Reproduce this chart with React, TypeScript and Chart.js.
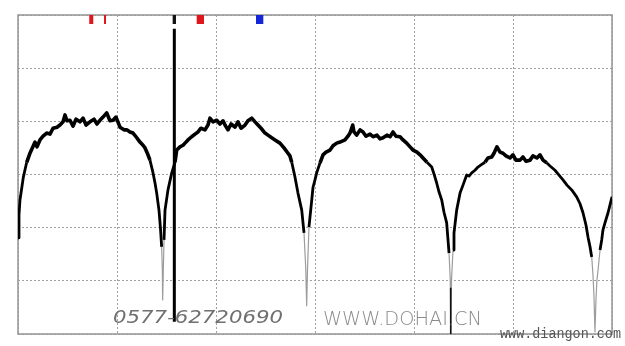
import React, { useEffect, useRef } from "react";
import { Chart, registerables } from "chart.js";

Chart.register(...registerables);

// Trace (x: 0..600 across 6 divisions, y: 0..6 across 6 divisions)
const traceX = [
  0, 1.0, 2.0, 5.4, 8.8, 12.1, 17.2, 19.2, 22.2, 25.3, 29.0, 32.3, 35.4, 39.4, 42.4, 45.5, 47.5, 49.5, 52.5, 55.6,
  58.6, 62.6, 65.7, 68.7, 72.7, 76.8, 79.8, 82.8, 85.9, 89.6, 92.9, 96.0, 99.0, 103.0, 107.1, 110.1, 113.1, 116.2, 119.2, 123.2,
  126.3, 128.3, 131.3, 133.3, 136.4, 138.4, 140.1, 142.4, 143.9, 145.1, 145.8, 146.1, 146.8, 147.5, 148.5, 151.5, 155.3, 158.6, 160.3, 163.6,
  166.7, 168.7, 171.7, 175.4, 178.8, 181.8, 184.8, 188.9, 191.9, 193.9, 197.0, 200.7, 204.0, 207.1, 209.1, 212.1, 215.2, 219.2, 222.2, 225.3,
  229.3, 232.3, 236.1, 239.4, 242.4, 245.5, 249.5, 252.5, 256.3, 259.6, 264.6, 268.7, 272.7, 274.7, 276.5, 279.8, 282.8, 286.6, 288.9, 290.6,
  291.6, 292.4, 293.9, 296.7, 298.0, 300.0, 301.7, 305.1, 308.1, 311.1, 315.2, 318.2, 321.9, 325.3, 330.3, 333.3, 335.4, 338.1, 339.4, 342.1,
  345.5, 348.5, 351.5, 355.6, 358.6, 362.6, 365.7, 368.7, 372.7, 375.8, 378.8, 381.8, 385.9, 388.9, 392.6, 396.0, 399.0, 403.0, 406.1, 409.1,
  413.1, 417.9, 420.2, 422.9, 425.3, 428.0, 430.3, 433.0, 435.4, 436.6, 437.1, 437.9, 439.4, 440.4, 443.1, 446.5, 449.5, 453.2, 455.6, 458.3,
  461.6, 464.6, 467.7, 471.7, 474.7, 478.5, 480.8, 483.8, 486.9, 489.9, 492.9, 497.0, 500.0, 503.0, 507.1, 510.1, 513.1, 517.2, 520.2, 524.2,
  527.3, 530.3, 534.0, 537.4, 542.4, 546.5, 550.5, 554.5, 559.3, 564.3, 567.7, 570.7, 573.7, 575.8, 577.8, 579.5, 580.8, 581.8, 582.8, 583.8,
  584.8, 585.9, 587.9, 589.6, 590.9, 592.9, 596.0, 598.0, 600.0,
];
const traceY = [
  1.81, 2.24, 2.52, 2.95, 3.23, 3.40, 3.61, 3.52, 3.65, 3.72, 3.78, 3.76, 3.87, 3.89, 3.93, 3.99, 4.12, 4.01, 4.02, 3.91,
  4.04, 3.99, 4.06, 3.93, 3.99, 4.04, 3.95, 4.02, 4.08, 4.16, 4.01, 4.02, 4.08, 3.89, 3.84, 3.84, 3.80, 3.78, 3.71, 3.61,
  3.55, 3.50, 3.37, 3.27, 3.03, 2.84, 2.65, 2.33, 1.99, 1.64, 1.20, 0.64, 1.20, 1.77, 2.33, 2.71, 3.03, 3.23, 3.46, 3.52,
  3.55, 3.59, 3.65, 3.71, 3.76, 3.80, 3.87, 3.84, 3.93, 4.06, 3.99, 4.02, 3.95, 4.01, 3.93, 3.84, 3.95, 3.89, 3.99, 3.87,
  3.93, 4.01, 4.06, 3.99, 3.93, 3.87, 3.78, 3.74, 3.69, 3.65, 3.59, 3.50, 3.40, 3.35, 3.23, 2.95, 2.65, 2.33, 1.90, 1.26,
  0.53, 1.20, 2.01, 2.52, 2.76, 2.90, 3.03, 3.22, 3.37, 3.42, 3.46, 3.54, 3.59, 3.61, 3.65, 3.72, 3.78, 3.93, 3.80, 3.74,
  3.84, 3.80, 3.72, 3.76, 3.71, 3.74, 3.67, 3.69, 3.74, 3.71, 3.80, 3.72, 3.71, 3.65, 3.59, 3.52, 3.46, 3.42, 3.37, 3.31,
  3.23, 3.14, 3.01, 2.84, 2.67, 2.52, 2.29, 2.09, 1.52, 1.02, 0.0, 1.02, 1.58, 1.90, 2.33, 2.65, 2.80, 2.99, 2.97, 3.03,
  3.08, 3.14, 3.18, 3.23, 3.31, 3.33, 3.40, 3.52, 3.42, 3.40, 3.35, 3.31, 3.37, 3.27, 3.27, 3.33, 3.25, 3.27, 3.35, 3.31,
  3.37, 3.27, 3.22, 3.16, 3.08, 2.99, 2.90, 2.80, 2.71, 2.58, 2.45, 2.28, 2.05, 1.82, 1.64, 1.45, 1.11, 0.70, 0.04, 0.64,
  1.02, 1.20, 1.58, 1.77, 1.96, 2.09, 2.28, 2.43, 2.58,
];

// Marker flags along the top edge
const markerX = [74.0, 87.9, 157.9, 184.2, 244.1];
const markerKinds = ["red", "red", "black", "red", "blue"];
const markerTop = 6.0;
const markerBottom = 5.83;

// Vertical cursor line
const cursorX = 157.9;
const cursorTop = 5.74;
const cursorBottom = 0.23;

// Dark notch tip line
const notchLineX = 437.1;
const notchLineTop = 0.87;
const notchLineBottom = 0.0;

const xTicks = [0, 100, 200, 300, 400, 500, 600];
const yTicks = [0, 1, 2, 3, 4, 5, 6];

const MARKER_STYLE: Record<string, string> = { red: "#e0161c", black: "#111111", blue: "#1426d6" };
const MARKER_WIDTHS = [4, 2, 3.3, 7.3, 7.3];

function drawFitted(ctx: CanvasRenderingContext2D, text: string, x0: number, x1: number, baseline: number, font: string, color: string) {
  ctx.save();
  ctx.font = font;
  ctx.fillStyle = color;
  ctx.textBaseline = "alphabetic";
  ctx.textAlign = "left";
  const w = ctx.measureText(text).width;
  ctx.translate(x0, baseline);
  ctx.scale((x1 - x0) / w, 1);
  ctx.fillText(text, 0, 0);
  ctx.restore();
}

const framePlugin = {
  id: "frame",
  beforeDatasetsDraw(chart: any) {
    const { ctx, chartArea } = chart;
    ctx.save();
    ctx.strokeStyle = "#9a9a9a";
    ctx.lineWidth = 1.6;
    ctx.strokeRect(chartArea.left, chartArea.top, chartArea.right - chartArea.left, chartArea.bottom - chartArea.top);
    ctx.restore();
  },
  afterDraw(chart: any) {
    const { ctx } = chart;
    drawFitted(ctx, "0577-62720690", 113, 283, 323, 'italic 300 18px "DejaVu Sans"', "#707070");
    drawFitted(ctx, "WWW.DOHAI.CN", 323, 482, 325, '300 20px "DejaVu Sans"', "#8a8a8a");
    drawFitted(ctx, "www.diangon.com", 500, 621, 338, '14px "Liberation Mono"', "#555555");
  },
};

export default function App() {
  const ref = useRef<HTMLCanvasElement | null>(null);
  useEffect(() => {
    if (!ref.current) return;
    const trace = traceX.map((x, i) => ({ x, y: traceY[i] }));
    const markerSets = markerX.map((x, i) => ({
      type: "line" as const,
      data: [{ x, y: markerTop }, { x, y: markerBottom }],
      borderColor: MARKER_STYLE[markerKinds[i]],
      borderWidth: MARKER_WIDTHS[i],
      borderCapStyle: "butt" as const,
      pointRadius: 0,
      order: 0,
    }));
    const widthFor = (c: any) => {
      const m = Math.min(c.p0.parsed.y, c.p1.parsed.y);
      if (m < 1.4) return 1.2;
      if (m > 3.2) return 3.6;
      return 2.8;
    };
    const chart = new Chart(ref.current, {
      type: "line",
      data: {
        datasets: [
          ...markerSets,
          {
            data: [{ x: cursorX, y: cursorTop }, { x: cursorX, y: cursorBottom }],
            borderColor: "#000",
            borderWidth: 3,
            borderCapStyle: "butt",
            pointRadius: 0,
            order: 0,
          },
          {
            data: [{ x: notchLineX, y: notchLineTop }, { x: notchLineX, y: notchLineBottom }],
            borderColor: "#111",
            borderWidth: 1.6,
            borderCapStyle: "butt",
            pointRadius: 0,
            order: 0,
          },
          {
            data: trace,
            borderColor: "#000",
            borderWidth: 2.8,
            borderJoinStyle: "round",
            pointRadius: 0,
            tension: 0,
            order: 10,
            segment: {
              borderColor: (c: any) => (Math.min(c.p0.parsed.y, c.p1.parsed.y) < 1.4 ? "#9c9c9c" : "#000"),
              borderWidth: widthFor,
            },
          },
        ],
      },
      options: {
        animation: false,
        responsive: false,
        devicePixelRatio: 1,
        layout: { padding: { left: 18, top: 15, right: 13, bottom: 12 } },
        plugins: { legend: { display: false }, tooltip: { enabled: false } },
        scales: {
          x: {
            type: "linear",
            min: 0,
            max: 600,
            afterBuildTicks: (s: any) => { s.ticks = xTicks.map((v) => ({ value: v })); },
            ticks: { display: false },
            grid: { color: "#a0a0a0", lineWidth: 1, drawTicks: false },
            border: { display: false, dash: [2, 2] },
          },
          y: {
            type: "linear",
            min: 0,
            max: 6,
            afterBuildTicks: (s: any) => { s.ticks = yTicks.map((v) => ({ value: v })); },
            ticks: { display: false },
            grid: { color: "#a0a0a0", lineWidth: 1, drawTicks: false },
            border: { display: false, dash: [2, 2] },
          },
        },
      },
      plugins: [framePlugin],
    });
    return () => chart.destroy();
  }, []);
  return (
    <div style={{ position: "absolute", left: 0, top: 0, width: 625, height: 346, background: "#fff" }}>
      <canvas ref={ref} width={625} height={346} style={{ display: "block" }} />
    </div>
  );
}
